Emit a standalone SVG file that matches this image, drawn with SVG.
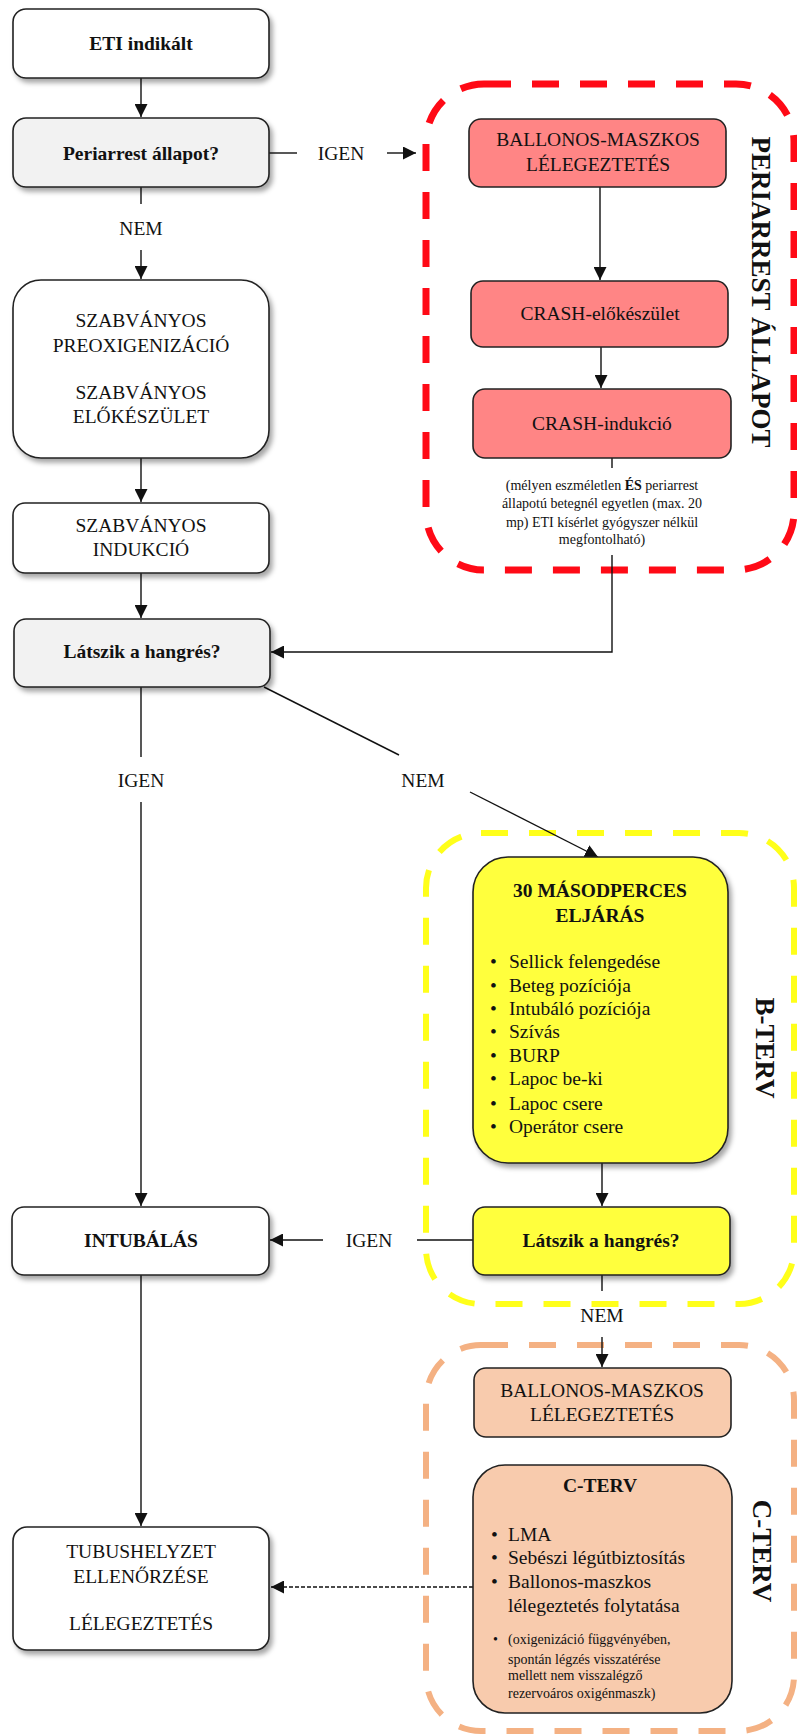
<svg xmlns="http://www.w3.org/2000/svg" width="797" height="1735" viewBox="0 0 797 1735">
<defs>
<filter id="sh" x="-10%" y="-10%" width="125%" height="135%">
<feDropShadow dx="3" dy="4" stdDeviation="2.5" flood-color="#000" flood-opacity="0.35"/>
</filter>
<marker id="ah" markerUnits="userSpaceOnUse" markerWidth="13" markerHeight="13" refX="13" refY="6.5" orient="auto">
<path d="M0,0 L13,6.5 L0,13 z" fill="#111"/>
</marker>
<style>
text{font-family:"Liberation Serif","Times New Roman",serif;fill:#111}
.t{font-size:19.5px;text-anchor:middle}
.b{font-weight:bold}
.s{font-size:14px;text-anchor:middle}
.l{font-size:19.5px}
.ls{font-size:14px}
.v{font-size:27px;font-weight:bold;text-anchor:middle;dominant-baseline:central}
.n{stroke:#222;stroke-width:1.6}
.w{fill:#fff}
.g{fill:#f2f2f2}
.r{fill:#ff8585}
.y{fill:#ffff3c}
.o{fill:#f8cbad}
.c{fill:none;stroke:#111;stroke-width:1.4}
.a{marker-end:url(#ah)}
.grp{fill:none;stroke-dasharray:27 21}
</style>
</defs>

<g id="containers">
<rect id="periarrest-group" class="grp" x="426" y="84" width="368" height="486" rx="58" stroke="#ff0a16" stroke-width="7"/>
<rect id="b-terv-group" class="grp" x="426" y="833" width="368" height="471" rx="55" stroke="#ffff1a" stroke-width="6"/>
<rect id="c-terv-group" class="grp" x="426" y="1345" width="368" height="386" rx="55" stroke="#f4b183" stroke-width="6"/>
<text class="v" transform="translate(761,292) rotate(90)">PERIARREST ÁLLAPOT</text>
<text class="v" transform="translate(765,1048) rotate(90)">B-TERV</text>
<text class="v" transform="translate(762,1551) rotate(90)">C-TERV</text>
</g>

<g id="connectors">
<line class="c a" x1="141" y1="78" x2="141" y2="117"/>
<line class="c" x1="269" y1="153" x2="297" y2="153"/>
<text class="t" x="341" y="160">IGEN</text>
<line class="c a" x1="387" y1="153" x2="416" y2="153"/>
<line class="c" x1="141" y1="187" x2="141" y2="204"/>
<text class="t" x="141" y="235">NEM</text>
<line class="c a" x1="141" y1="250" x2="141" y2="279"/>
<line class="c a" x1="141" y1="458" x2="141" y2="502"/>
<line class="c a" x1="141" y1="573" x2="141" y2="618"/>
<line class="c a" x1="600" y1="187" x2="600" y2="280"/>
<line class="c a" x1="601" y1="347" x2="601" y2="388"/>
<line class="c" x1="612" y1="446" x2="612" y2="468"/>
<polyline class="c a" points="612,555 612,652 271,652"/>
<line class="c" x1="141" y1="687" x2="141" y2="757"/>
<text class="t" x="141" y="787">IGEN</text>
<line class="c a" x1="141" y1="802" x2="141" y2="1206"/>
<line class="c" x1="264" y1="687" x2="399" y2="755"/>
<text class="t" x="423" y="787">NEM</text>
<line class="c a" x1="470" y1="792" x2="598" y2="857"/>
<line class="c a" x1="602" y1="1163" x2="602" y2="1206"/>
<line class="c" x1="473" y1="1240" x2="417" y2="1240"/>
<text class="t" x="369" y="1247">IGEN</text>
<line class="c a" x1="323" y1="1240" x2="270" y2="1240"/>
<line class="c" x1="602" y1="1275" x2="602" y2="1291"/>
<text class="t" x="602" y="1322">NEM</text>
<line class="c a" x1="602" y1="1337" x2="602" y2="1367"/>
<line class="c a" x1="141" y1="1275" x2="141" y2="1526"/>
<line class="c a" x1="473" y1="1587" x2="271" y2="1587" stroke-dasharray="4 2"/>
</g>

<g id="eti">
<rect class="n w" x="13" y="9" width="256" height="69" rx="13" filter="url(#sh)"/>
<text class="t b" x="141" y="50">ETI indikált</text>
</g>
<g id="periarrest-q">
<rect class="n g" x="13" y="118" width="256" height="69" rx="13" filter="url(#sh)"/>
<text class="t b" x="141" y="160">Periarrest állapot?</text>
</g>
<g id="szabv-preox">
<rect class="n w" x="13" y="280" width="256" height="178" rx="28" filter="url(#sh)"/>
<text class="t" x="141" y="327">SZABVÁNYOS</text>
<text class="t" x="141" y="352">PREOXIGENIZÁCIÓ</text>
<text class="t" x="141" y="399">SZABVÁNYOS</text>
<text class="t" x="141" y="423">ELŐKÉSZÜLET</text>
</g>
<g id="szabv-indukcio">
<rect class="n w" x="13" y="503" width="256" height="70" rx="12" filter="url(#sh)"/>
<text class="t" x="141" y="532">SZABVÁNYOS</text>
<text class="t" x="141" y="556">INDUKCIÓ</text>
</g>
<g id="latszik-1">
<rect class="n g" x="14" y="619" width="256" height="68" rx="12" filter="url(#sh)"/>
<text class="t b" x="142" y="658">Látszik a hangrés?</text>
</g>
<g id="intubalas">
<rect class="n w" x="12" y="1207" width="257" height="68" rx="12" filter="url(#sh)"/>
<text class="t b" x="141" y="1247">INTUBÁLÁS</text>
</g>
<g id="tubushelyzet">
<rect class="n w" x="13" y="1527" width="256" height="123" rx="14" filter="url(#sh)"/>
<text class="t" x="141" y="1558">TUBUSHELYZET</text>
<text class="t" x="141" y="1583">ELLENŐRZÉSE</text>
<text class="t" x="141" y="1630">LÉLEGEZTETÉS</text>
</g>

<g id="ballonos-1">
<rect class="n r" x="469" y="119" width="257" height="68" rx="12"/>
<text class="t" x="598" y="146">BALLONOS-MASZKOS</text>
<text class="t" x="598" y="171">LÉLEGEZTETÉS</text>
</g>
<g id="crash-elo">
<rect class="n r" x="471" y="281" width="257" height="66" rx="12"/>
<text class="t" x="600" y="320">CRASH-előkészület</text>
</g>
<g id="crash-ind">
<rect class="n r" x="473" y="389" width="258" height="69" rx="12"/>
<text class="t" x="602" y="430">CRASH-indukció</text>
</g>
<g id="note">
<text class="s" x="602" y="490">(mélyen eszméletlen <tspan font-weight="bold">ÉS</tspan> periarrest</text>
<text class="s" x="602" y="508">állapotú betegnél egyetlen (max. 20</text>
<text class="s" x="602" y="527">mp) ETI kísérlet gyógyszer nélkül</text>
<text class="s" x="602" y="544">megfontolható)</text>
</g>

<g id="harminc-mp">
<rect class="n y" x="473" y="857" width="255" height="306" rx="35" filter="url(#sh)"/>
<text class="t b" x="600" y="897">30 MÁSODPERCES</text>
<text class="t b" x="600" y="922">ELJÁRÁS</text>
<g class="l">
<text class="l" x="490" y="968">•</text><text class="l" x="509" y="968">Sellick felengedése</text>
<text class="l" x="490" y="992">•</text><text class="l" x="509" y="992">Beteg pozíciója</text>
<text class="l" x="490" y="1015">•</text><text class="l" x="509" y="1015">Intubáló pozíciója</text>
<text class="l" x="490" y="1038">•</text><text class="l" x="509" y="1038">Szívás</text>
<text class="l" x="490" y="1062">•</text><text class="l" x="509" y="1062">BURP</text>
<text class="l" x="490" y="1085">•</text><text class="l" x="509" y="1085">Lapoc be-ki</text>
<text class="l" x="490" y="1110">•</text><text class="l" x="509" y="1110">Lapoc csere</text>
<text class="l" x="490" y="1133">•</text><text class="l" x="509" y="1133">Operátor csere</text>
</g>
</g>
<g id="latszik-2">
<rect class="n y" x="473" y="1207" width="257" height="68" rx="12" filter="url(#sh)"/>
<text class="t b" x="601" y="1247">Látszik a hangrés?</text>
</g>

<g id="ballonos-2">
<rect class="n o" x="474" y="1368" width="257" height="69" rx="12"/>
<text class="t" x="602" y="1397">BALLONOS-MASZKOS</text>
<text class="t" x="602" y="1421">LÉLEGEZTETÉS</text>
</g>
<g id="c-terv">
<rect class="n o" x="473" y="1465" width="259" height="248" rx="32"/>
<text class="t b" x="600" y="1492">C-TERV</text>
<text class="l" x="491" y="1541">•</text><text class="l" x="508" y="1541">LMA</text>
<text class="l" x="491" y="1564">•</text><text class="l" x="508" y="1564">Sebészi légútbiztosítás</text>
<text class="l" x="491" y="1588">•</text><text class="l" x="508" y="1588">Ballonos-maszkos</text>
<text class="l" x="508" y="1612">lélegeztetés folytatása</text>
<text class="ls" x="493" y="1644" font-size="11">•</text>
<text class="ls" x="508" y="1644">(oxigenizáció függvényében,</text>
<text class="ls" x="508" y="1664">spontán légzés visszatérése</text>
<text class="ls" x="508" y="1680">mellett nem visszalégző</text>
<text class="ls" x="508" y="1698">rezervoáros oxigénmaszk)</text>
</g>
</svg>
